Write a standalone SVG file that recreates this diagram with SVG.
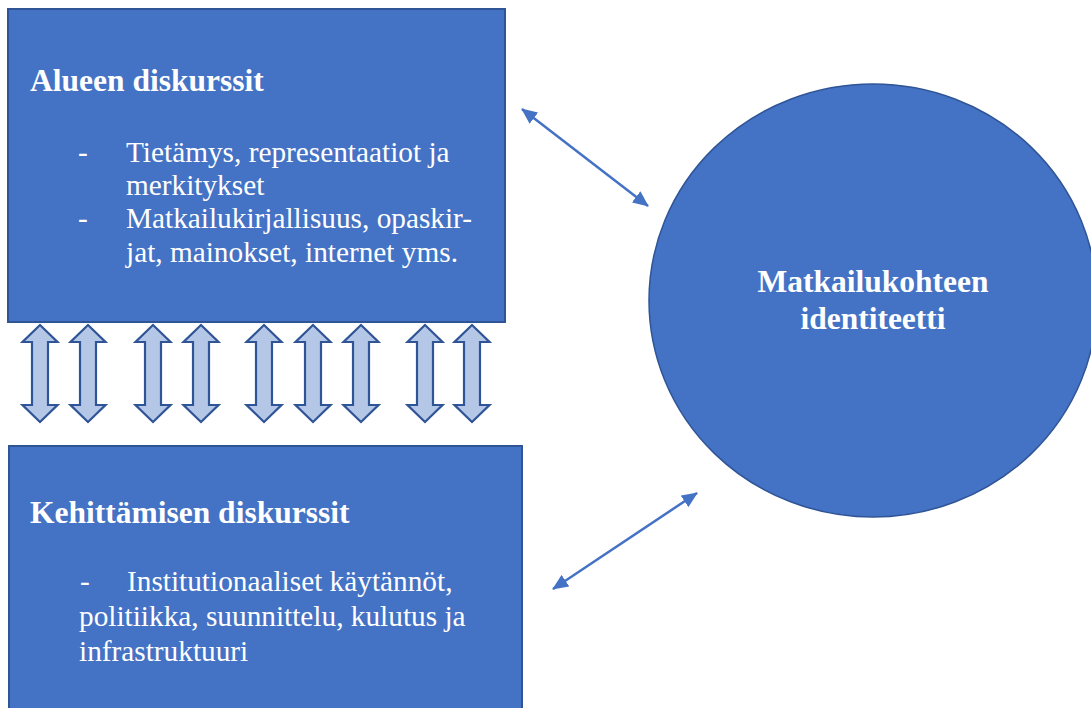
<svg xmlns="http://www.w3.org/2000/svg" width="1091" height="708" viewBox="0 0 1091 708">
<style>
.box{fill:#4472C4;stroke:#2F5597;stroke-width:2}
.ttl{font-family:"Liberation Serif","Times New Roman",serif;font-weight:bold;font-size:31.5px;fill:#fff}
.txt{font-family:"Liberation Serif","Times New Roman",serif;font-size:29.3px;fill:#fff}
.con{stroke:#4472C4;stroke-width:2.5;fill:none;marker-start:url(#ah);marker-end:url(#ah)}
.blk{fill:#B4C7E7;stroke:#2F5597;stroke-width:2.2;stroke-linejoin:miter}
</style>
<defs>
<marker id="ah" markerUnits="userSpaceOnUse" markerWidth="16" markerHeight="14" refX="15" refY="7" orient="auto-start-reverse">
<path d="M0,0 L16,7 L0,14 Z" fill="#4472C4"/>
</marker>
<path id="dbl" d="M0,325 L17.5,342 L8,342 L8,405 L17.5,405 L0,422 L-17.5,405 L-8,405 L-8,342 L-17.5,342 Z"/>
</defs>
<rect width="1091" height="708" fill="#fff"/>
<g id="alueen">
<rect class="box" x="8" y="9" width="497" height="313"/>
<text class="ttl" x="30" y="91">Alueen diskurssit</text>
<text class="txt" x="78" y="162">-</text>
<text class="txt" x="126" y="162">Tietämys, representaatiot ja</text>
<text class="txt" x="126" y="195">merkitykset</text>
<text class="txt" x="78" y="228">-</text>
<text class="txt" x="126" y="228">Matkailukirjallisuus, opaskir-</text>
<text class="txt" x="126" y="262">jat, mainokset, internet yms.</text>
</g>
<g id="kehittamisen">
<rect class="box" x="9" y="446" width="513" height="270"/>
<text class="ttl" x="30" y="523">Kehittämisen diskurssit</text>
<text class="txt" x="80" y="591">-</text>
<text class="txt" x="127" y="591">Institutionaaliset käytännöt,</text>
<text class="txt" x="79" y="626">politiikka, suunnittelu, kulutus ja</text>
<text class="txt" x="79" y="661">infrastruktuuri</text>
</g>
<g id="identiteetti">
<ellipse cx="873" cy="300.5" rx="224" ry="216.5" fill="#4472C4" stroke="#2F5597" stroke-width="1.5"/>
<text class="ttl" x="873" y="292" text-anchor="middle">Matkailukohteen</text>
<text class="ttl" x="873" y="329" text-anchor="middle">identiteetti</text>
</g>
<g id="connectors">
<line class="con" x1="522" y1="109" x2="648" y2="206"/>
<line class="con" x1="553" y1="589" x2="697" y2="493"/>
<g class="blk">
<use href="#dbl" x="40"/>
<use href="#dbl" x="88"/>
<use href="#dbl" x="153"/>
<use href="#dbl" x="201"/>
<use href="#dbl" x="264"/>
<use href="#dbl" x="313"/>
<use href="#dbl" x="361"/>
<use href="#dbl" x="425"/>
<use href="#dbl" x="472"/>
</g>
</g>
</svg>
